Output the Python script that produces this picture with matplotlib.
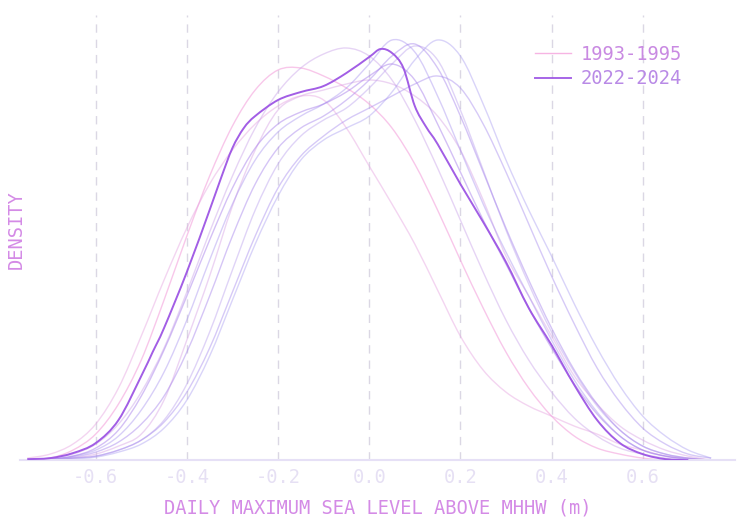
import numpy as np
import matplotlib
matplotlib.use("Agg")
import matplotlib.pyplot as plt
from matplotlib.colors import LinearSegmentedColormap
from matplotlib.path import Path
from matplotlib.patches import PathPatch
from matplotlib.lines import Line2D

plt.rcParams['font.family'] = ['DejaVu Sans Mono']
plt.rcParams['axes.unicode_minus'] = False

# sea level above MHHW (m) where each density curve is sampled
x_grid = [-0.75, -0.7, -0.65, -0.6, -0.55, -0.5, -0.45, -0.4, -0.35, -0.3,
          -0.25, -0.2, -0.15, -0.1, -0.05, 0.0, 0.05, 0.1, 0.15, 0.2,
          0.25, 0.3, 0.35, 0.4, 0.45, 0.5, 0.55, 0.6, 0.65, 0.7, 0.75]

periods = ["1993-1995", "1996-1998", "1999-2001", "2002-2004", "2005-2007",
           "2008-2010", "2011-2013", "2014-2016", "2017-2019", "2020-2022"]

dens_1993 = [0.0, 0.01, 0.05, 0.13, 0.28, 0.50, 0.80, 1.12, 1.42, 1.67,
             1.85, 1.95, 1.96, 1.92, 1.86, 1.78, 1.66, 1.48, 1.25, 1.00,
             0.76, 0.54, 0.36, 0.22, 0.12, 0.06, 0.03, 0.01, 0.0, 0.0, 0.0]
dens_1996 = [0.01, 0.03, 0.08, 0.18, 0.36, 0.62, 0.90, 1.16, 1.38, 1.55,
             1.68, 1.77, 1.82, 1.80, 1.66, 1.47, 1.28, 1.08, 0.85, 0.62,
             0.45, 0.34, 0.27, 0.22, 0.17, 0.13, 0.08, 0.05, 0.02, 0.01, 0.0]
dens_1999 = [0.0, 0.0, 0.01, 0.03, 0.07, 0.13, 0.30, 0.60, 0.92, 1.27,
             1.55, 1.75, 1.82, 1.85, 1.88, 1.90, 1.88, 1.82, 1.72, 1.55,
             1.30, 1.02, 0.82, 0.62, 0.42, 0.28, 0.17, 0.10, 0.05, 0.02, 0.0]
dens_2002 = [0.0, 0.01, 0.03, 0.08, 0.18, 0.34, 0.56, 0.84, 1.14, 1.42,
             1.66, 1.84, 1.96, 2.03, 2.06, 2.02, 1.90, 1.70, 1.46, 1.20,
             0.94, 0.70, 0.50, 0.34, 0.21, 0.12, 0.06, 0.03, 0.01, 0.0, 0.0]
dens_2005 = [0.0, 0.0, 0.01, 0.02, 0.05, 0.10, 0.20, 0.38, 0.64, 0.95,
             1.25, 1.48, 1.62, 1.70, 1.76, 1.86, 1.98, 2.07, 2.00, 1.75,
             1.45, 1.15, 0.88, 0.64, 0.44, 0.27, 0.15, 0.07, 0.03, 0.01, 0.0]
dens_2008 = [0.0, 0.0, 0.005, 0.015, 0.04, 0.08, 0.16, 0.30, 0.52, 0.80,
             1.08, 1.32, 1.50, 1.60, 1.66, 1.72, 1.84, 2.00, 2.10, 2.02,
             1.78, 1.50, 1.25, 1.02, 0.78, 0.56, 0.37, 0.22, 0.12, 0.05, 0.01]
dens_2011 = [0.0, 0.005, 0.02, 0.05, 0.12, 0.25, 0.44, 0.70, 1.00, 1.28,
             1.50, 1.64, 1.72, 1.78, 1.86, 1.98, 2.10, 2.04, 1.82, 1.55,
             1.28, 1.04, 0.82, 0.60, 0.40, 0.24, 0.12, 0.05, 0.02, 0.005, 0.0]
dens_2014 = [0.0, 0.0, 0.01, 0.02, 0.05, 0.10, 0.19, 0.34, 0.56, 0.84,
             1.12, 1.36, 1.52, 1.62, 1.70, 1.76, 1.82, 1.88, 1.92, 1.86,
             1.68, 1.44, 1.18, 0.92, 0.68, 0.46, 0.29, 0.16, 0.08, 0.03, 0.01]
dens_2017 = [0.0, 0.005, 0.015, 0.04, 0.09, 0.18, 0.32, 0.54, 0.82, 1.12,
             1.38, 1.56, 1.66, 1.72, 1.80, 1.90, 2.02, 2.08, 1.96, 1.72,
             1.44, 1.16, 0.90, 0.66, 0.45, 0.28, 0.15, 0.07, 0.03, 0.01, 0.0]
dens_2020 = [0.0, 0.005, 0.02, 0.06, 0.15, 0.32, 0.55, 0.82, 1.10, 1.36,
             1.56, 1.68, 1.74, 1.78, 1.84, 1.92, 1.98, 1.90, 1.68, 1.44,
             1.20, 0.98, 0.76, 0.56, 0.38, 0.23, 0.12, 0.05, 0.02, 0.005, 0.0]

older = [dens_1993, dens_1996, dens_1999, dens_2002, dens_2005,
         dens_2008, dens_2011, dens_2014, dens_2017, dens_2020]

# most recent period, sampled more finely around its peak
latest_label = "2022-2024"
x_latest = [-0.75, -0.7, -0.65, -0.6, -0.55, -0.5, -0.475, -0.45, -0.4, -0.35,
            -0.325, -0.3, -0.275, -0.25, -0.2, -0.15, -0.1, -0.05, 0.0, 0.025,
            0.05, 0.075, 0.1, 0.125, 0.15, 0.2, 0.25, 0.3, 0.35, 0.4,
            0.45, 0.5, 0.55, 0.6, 0.65, 0.7]
dens_latest = [0.005, 0.01, 0.035, 0.085, 0.2, 0.42, 0.54, 0.66, 0.94, 1.25,
               1.41, 1.56, 1.66, 1.72, 1.8, 1.84, 1.87, 1.935, 2.015, 2.055,
               2.035, 1.96, 1.77, 1.665, 1.58, 1.38, 1.19, 0.99, 0.76, 0.575,
               0.375, 0.2, 0.085, 0.03, 0.005, 0.0]

ticks = [-0.6, -0.4, -0.2, 0.0, 0.2, 0.4, 0.6]
tick_labels = ["-0.6", "-0.4", "-0.2", "0.0", "0.2", "0.4", "0.6"]

cmap = LinearSegmentedColormap.from_list("pinkpurple", ["#f4a2dc", "#aca0f2", "#9d6ae8"])
label_color = "#d48be6"
tick_color = "#e6e0f4"


def smooth_path(xs, ys):
    """Bezier path passing through every sample (Catmull-Rom tangents)."""
    pts = np.column_stack([xs, ys]).astype(float)
    padded = np.vstack([pts[0], pts, pts[-1]])
    verts = [pts[0]]
    codes = [Path.MOVETO]
    for i in range(len(pts) - 1):
        p0, p1, p2, p3 = padded[i], padded[i + 1], padded[i + 2], padded[i + 3]
        c1 = p1 + (p2 - p0) / 6
        c2 = p2 - (p3 - p1) / 6
        verts += [c1, c2, p2]
        codes += [Path.CURVE4] * 3
    return Path(verts, codes)


fig = plt.figure(figsize=(7.39, 5.17), dpi=100)
ax = fig.add_axes([0.027, 0.110, 0.968, 0.861])

for t in ticks:
    ax.axvline(t, color="#dbd7e4", lw=1.0, linestyle=(0, (6, 5)), zorder=0)

n = len(older)
for i, dens in enumerate(older):
    c = cmap(i / n)
    alpha = 0.6 if i == 0 else 0.45
    ax.add_patch(PathPatch(smooth_path(x_grid, dens), fill=False,
                           edgecolor=c, lw=1.0, alpha=alpha, zorder=2))

latest_color = "#9d55e4"
ax.add_patch(PathPatch(smooth_path(x_latest, dens_latest), fill=False,
                       edgecolor=latest_color, lw=1.4, alpha=0.95, zorder=3))

ax.set_xlim(-0.766, 0.803)
ax.set_ylim(0, 2.225)
ax.set_yticks([])
ax.set_xticks(ticks)
ax.set_xticklabels(tick_labels)
ax.tick_params(axis="x", length=0, pad=6, labelsize=13.5, labelcolor=tick_color)

for side in ["top", "right", "left"]:
    ax.spines[side].set_visible(False)
ax.spines["bottom"].set_color("#e6e0f6")
ax.spines["bottom"].set_linewidth(1.5)

ax.set_xlabel("DAILY MAXIMUM SEA LEVEL ABOVE MHHW (m)", fontsize=13.5,
              color=label_color, labelpad=8)
fig.text(0.022, 0.555, "DENSITY", rotation=90, fontsize=13.5,
         color=label_color, ha="center", va="center")

handles = [Line2D([], [], color=cmap(0.0), lw=1.0, alpha=0.8),
           Line2D([], [], color=latest_color, lw=1.4, alpha=0.9)]
leg = ax.legend(handles, [periods[0], latest_label], loc="upper left",
                bbox_to_anchor=(0.71, 0.95), frameon=False,
                fontsize=13.5, handlelength=1.9, handletextpad=0.5,
                labelspacing=0.3, borderaxespad=0)
for text, col in zip(leg.get_texts(), ["#c98ae2", "#b98ae6"]):
    text.set_color(col)

fig.savefig("out.png", dpi=100)
